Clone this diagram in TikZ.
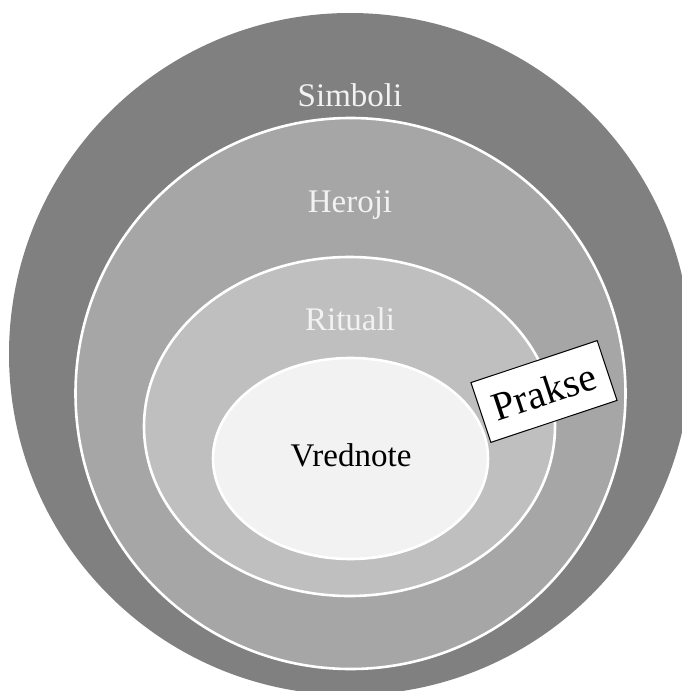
\documentclass[tikz,border=0pt]{standalone}
\usepackage{fontspec}
\setmainfont{Liberation Serif}
\definecolor{cSimb}{HTML}{808080}
\definecolor{cHero}{HTML}{A6A6A6}
\definecolor{cRit}{HTML}{BFBFBF}
\definecolor{cVred}{HTML}{F2F2F2}
\begin{document}
\begin{tikzpicture}[x=1pt,y=-1pt,
  ring/.style={draw=white,line width=2.6pt},
  lbl/.style={font=\fontsize{33}{36}\selectfont,inner sep=0pt},
  praksebox/.style={draw=black,fill=white,line width=1pt,minimum width=133pt,minimum height=63pt,inner sep=0pt,rotate=18.4,font=\fontsize{40}{44}\selectfont}]
\clip (0,0) rectangle (682,691);
\fill[white] (0,0) rectangle (682,691);
\fill[cSimb] (350,354) circle [radius=341];
\filldraw[ring,fill=cHero] (350.5,393.5) ellipse [x radius=275,y radius=275.5];
\filldraw[ring,fill=cRit] (349.5,426.5) ellipse [x radius=205.5,y radius=169.5];
\filldraw[ring,fill=cVred] (350.5,458.5) ellipse [x radius=137.5,y radius=100.5];
\node[lbl,text=cVred,anchor=base] (simboli) at (350,106) {Simboli};
\node[lbl,text=cVred,anchor=base] (heroji) at (350,212) {Heroji};
\node[lbl,text=cVred,anchor=base] (rituali) at (350,330) {Rituali};
\node[lbl,text=black,anchor=base] (vrednote) at (351,466) {Vrednote};
\node[praksebox] (prakse) at (544,391.5) {Prakse};
\end{tikzpicture}
\end{document}
